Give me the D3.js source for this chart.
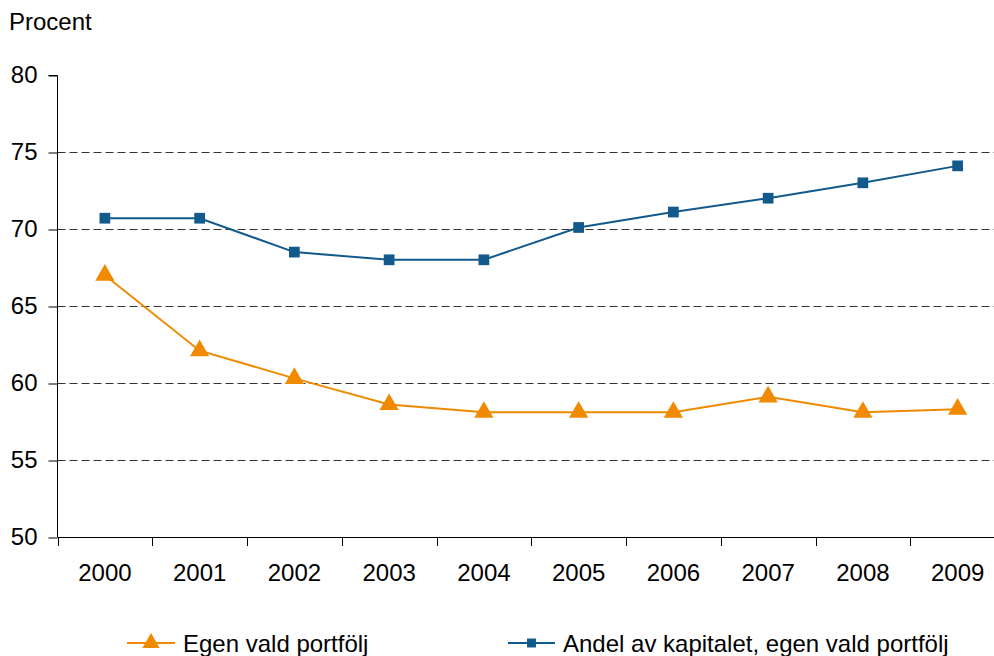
<!DOCTYPE html>
<html><head><meta charset="utf-8">
<script src="https://cdn.jsdelivr.net/npm/d3@7/dist/d3.min.js"></script>
<style>body{margin:0;background:#fff;} text{font-family:"Liberation Sans",Arial,sans-serif;fill:#000;}</style>
</head><body>
<svg id="c" width="994" height="656"></svg>
<script>
const years = ["2000","2001","2002","2003","2004","2005","2006","2007","2008","2009"];
const egenVald = [67.0, 62.1, 60.3, 58.6, 58.1, 58.1, 58.1, 59.1, 58.1, 58.3];
const andelKapital = [70.7, 70.7, 68.5, 68.0, 68.0, 70.1, 71.1, 72.0, 73.0, 74.1];
const yTicks = [50, 55, 60, 65, 70, 75, 80];
const seriesNames = ["Egen vald portfölj", "Andel av kapitalet, egen vald portfölj"];
const colors = ["#f08a00", "#135a8c"];

(function () {
const svg = d3.select("#c");
const pLeft = 57.5, pTop = 75, pBottom = 537, pRight = 1005;
const x = d3.scaleBand().domain(years).range([pLeft, pRight]);
const y = d3.scaleLinear().domain([50, 80]).range([pBottom, pTop]);
const font = '"Liberation Sans",Arial,sans-serif';
const fs = 24;

// gridlines
svg.append("g").selectAll("line").data(yTicks.filter(d => d > 50 && d < 80)).join("line")
  .attr("x1", pLeft).attr("x2", 994).attr("y1", d => Math.round(y(d)) + 0.5).attr("y2", d => Math.round(y(d)) + 0.5)
  .attr("stroke", "#333").attr("stroke-width", 1).attr("stroke-dasharray", "8,4");

// y axis
const yAxis = d3.axisLeft(y).tickValues(yTicks).tickSize(9).tickPadding(11);
const gy = svg.append("g").attr("transform", `translate(${pLeft},0)`).call(yAxis);
gy.select(".domain").attr("stroke", "#000").attr("d", `M-9,${pTop + 0.5}H0V${pBottom}`);
gy.selectAll(".tick line").attr("stroke", "#000").attr("transform", "translate(0,0.5)");
gy.selectAll(".tick text").attr("font-size", fs).attr("fill", "#000").style("font-family", font);

// x axis
const xAxis = d3.axisBottom(x).tickSize(0).tickPadding(26);
const gx = svg.append("g").attr("transform", `translate(0,${pBottom + 0.5})`).call(xAxis);
gx.select(".domain").attr("stroke", "#000").attr("d", `M${pLeft},0H${pRight}`);
gx.selectAll(".tick text").attr("font-size", fs).attr("fill", "#000").style("font-family", font);
svg.append("g").selectAll("line").data(years).join("line")
  .attr("x1", d => Math.round(x(d)) + 0.5).attr("x2", d => Math.round(x(d)) + 0.5)
  .attr("y1", pBottom).attr("y2", pBottom + 9).attr("stroke", "#000");

svg.append("text").attr("x", 9).attr("y", 30).attr("font-size", fs).text("Procent");

const cx = d => x(d) + x.bandwidth() / 2;
const line = d3.line().x(d => cx(d.year)).y(d => y(d.v));

const s1 = years.map((yr, i) => ({year: yr, v: egenVald[i]}));
const s2 = years.map((yr, i) => ({year: yr, v: andelKapital[i]}));

svg.append("path").datum(s2).attr("d", line).attr("fill", "none").attr("stroke", colors[1]).attr("stroke-width", 2);
svg.append("path").datum(s1).attr("d", line).attr("fill", "none").attr("stroke", colors[0]).attr("stroke-width", 2);

const tri = d3.symbol().type(d3.symbolTriangle).size(160);
const sq = d3.symbol().type(d3.symbolSquare).size(115);
const triL = d3.symbol().type(d3.symbolTriangle).size(130);
const sqL = d3.symbol().type(d3.symbolSquare).size(80);

svg.append("g").selectAll("path").data(s2).join("path")
  .attr("transform", d => `translate(${cx(d.year)},${y(d.v)})`)
  .attr("d", sq).attr("fill", colors[1]);
svg.append("g").selectAll("path").data(s1).join("path")
  .attr("transform", d => `translate(${cx(d.year)},${y(d.v)})`)
  .attr("d", tri).attr("fill", colors[0]);

// legend
const ly = 643;
const leg = [{x1: 127, x2: 175, tx: 183, sym: triL, c: colors[0], name: seriesNames[0]},
             {x1: 508, x2: 555, tx: 563, sym: sqL, c: colors[1], name: seriesNames[1]}];
const lg = svg.append("g").selectAll("g").data(leg).join("g");
lg.append("line").attr("x1", d => d.x1).attr("x2", d => d.x2).attr("y1", ly).attr("y2", ly)
  .attr("stroke", d => d.c).attr("stroke-width", 2);
lg.append("path").attr("transform", d => `translate(${(d.x1 + d.x2) / 2},${ly})`)
  .attr("d", d => d.sym()).attr("fill", d => d.c);
lg.append("text").attr("x", d => d.tx).attr("y", ly + 9).attr("font-size", fs).text(d => d.name);
})();
</script>
</body></html>
